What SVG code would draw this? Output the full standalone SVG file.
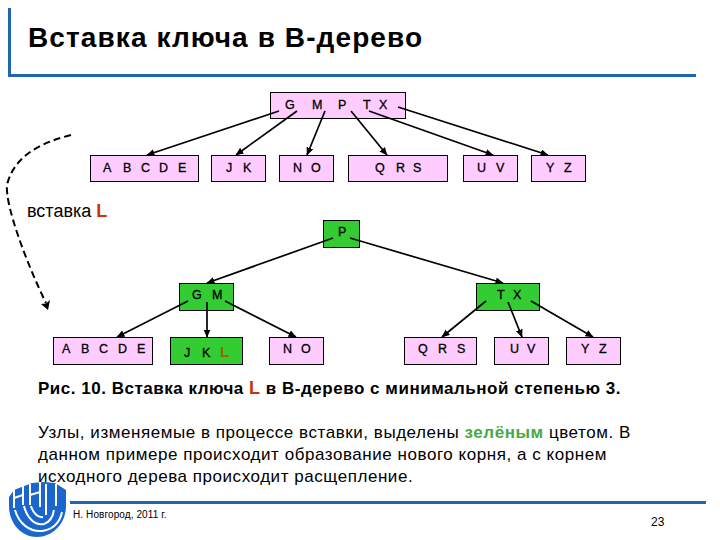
<svg xmlns="http://www.w3.org/2000/svg" width="720" height="540" viewBox="0 0 720 540">
<style>
text{font-family:"Liberation Sans",Arial,sans-serif;fill:#000}
.pink{fill:#ffccff;stroke:#000;stroke-width:1}
.green{fill:#33cc33;stroke:#000;stroke-width:1}
.k{font-size:12.5px;stroke:#000;stroke-width:.3}
.c{stroke:#000;stroke-width:1.7;fill:none;marker-end:url(#a)}
.body{font-size:17px;letter-spacing:.55px}
.cap{font-size:17px;font-weight:bold;letter-spacing:.52px}
.red{fill:#cc3300}
.bar{fill:#1f66ad}
</style>
<defs>
<marker id="a" markerUnits="userSpaceOnUse" markerWidth="10" markerHeight="10" refX="7.5" refY="3.5" orient="auto"><path d="M0 0L8 3.5L0 7Z" fill="#000"/></marker>
</defs>
<rect id="rule-v" class="bar" x="8" y="8" width="3" height="69"/>
<rect id="rule-h" class="bar" x="8" y="74" width="688" height="3"/>
<text x="28" y="47" font-size="28" font-weight="bold" letter-spacing="1.1">Вставка ключа в В-дерево</text>
<g id="n-root"><rect class="pink" x="270.500" y="92.500" width="135" height="26"/><text class="k" x="285 312 338 363 379" y="109">GMPTX</text></g>
<g id="n-abcde"><rect class="pink" x="90.500" y="155.500" width="108" height="26"/><text class="k" x="103 123 141 159 178" y="172">ABCDE</text></g>
<g id="n-jk"><rect class="pink" x="211.500" y="155.500" width="54" height="26"/><text class="k" x="226 243" y="172">JK</text></g>
<g id="n-no"><rect class="pink" x="279.500" y="155.500" width="54" height="26"/><text class="k" x="293 311" y="172">NO</text></g>
<g id="n-qrs"><rect class="pink" x="348.500" y="155.500" width="99" height="26"/><text class="k" x="375 396 413" y="172">QRS</text></g>
<g id="n-uv"><rect class="pink" x="463.500" y="155.500" width="54" height="26"/><text class="k" x="477 496" y="172">UV</text></g>
<g id="n-yz"><rect class="pink" x="531.500" y="155.500" width="54" height="26"/><text class="k" x="546 564" y="172">YZ</text></g>
<text x="27" y="217" font-size="18">вставка <tspan class="red" font-weight="bold">L</tspan></text>
<g id="n-p"><rect class="green" x="323.500" y="220.500" width="36" height="27"/><text class="k" x="338" y="236">P</text></g>
<g id="n-gm"><rect class="green" x="179.500" y="283.500" width="54" height="27"/><text class="k" x="192 212" y="299">GM</text></g>
<g id="n-tx"><rect class="green" x="476.500" y="283.500" width="63" height="27"/><text class="k" x="497 513" y="299">TX</text></g>
<g id="n-abcde2"><rect class="pink" x="53.500" y="337.500" width="99" height="27"/><text class="k" x="62 81 99 118 137" y="353">ABCDE</text></g>
<g id="n-jkl"><rect class="green" x="170.500" y="337.500" width="72" height="27"/><text class="k" x="184 202" y="357">JK</text><text x="220" y="357" font-size="15" font-weight="bold" style="fill:#996600">L</text></g>
<g id="n-no2"><rect class="pink" x="269.500" y="337.500" width="54" height="27"/><text class="k" x="283 301" y="353">NO</text></g>
<g id="n-qrs2"><rect class="pink" x="404.500" y="337.500" width="72" height="27"/><text class="k" x="418 438 457" y="353">QRS</text></g>
<g id="n-uv2"><rect class="pink" x="494.500" y="337.500" width="54" height="27"/><text class="k" x="510 527" y="353">UV</text></g>
<g id="n-yz2"><rect class="pink" x="566.500" y="337.500" width="54" height="27"/><text class="k" x="581 599" y="353">YZ</text></g>
<g id="connectors">
<path class="c" d="M279 111L147 155"/>
<path class="c" d="M297 111L236 155"/>
<path class="c" d="M325 111L307 155"/>
<path class="c" d="M351 111L387 155"/>
<path class="c" d="M369 111L493 155"/>
<path class="c" d="M398 107L548 155"/>
<path class="c" d="M333 238L207 283"/>
<path class="c" d="M350 238L503 283"/>
<path class="c" d="M188 301L117 337"/>
<path class="c" d="M207 302L207 337"/>
<path class="c" d="M225 301L296 337"/>
<path class="c" d="M486 301L442 337"/>
<path class="c" d="M508 302L522 337"/>
<path class="c" d="M531 301L593 337"/>
<path d="M71 135C40 143 14 156 7 185C5 205 26 262 46 303" fill="none" stroke="#000" stroke-width="2" stroke-dasharray="7 4"/>
<path d="M48 310L41 304L46 303.500L50 300Z" fill="#000"/>
</g>
<text class="cap" x="38" y="394">Рис. 10. Вставка ключа <tspan class="red" font-size="18">L</tspan> в В-дерево с минимальной степенью 3.</text>
<text class="body" x="38" y="438" letter-spacing=".6">Узлы, изменяемые в процессе вставки, выделены <tspan style="fill:#44aa44" font-weight="bold">зелёным</tspan> цветом. В</text>
<text class="body" x="38" y="460">данном примере происходит образование нового корня, а с корнем</text>
<text class="body" x="38" y="482">исходного дерева происходит расщепление.</text>
<rect id="rule-foot" class="bar" x="70" y="501" width="636" height="3"/>
<text x="73" y="518" font-size="10" letter-spacing=".1">Н. Новгород, 2011 г.</text>
<text x="651" y="526" font-size="12">23</text>
<g id="logo">
<path d="M9 497L14 490L32 483L44 482L55 483L66 490V506C66 524 52 537 37 537C21 537 9 523 9 506Z" fill="#1a66cc"/>
<path d="M14 490V508M23 486V505M14 498L23 495M30 484V505M40 482V507M30 495L40 492" fill="none" stroke="#fff" stroke-width="2"/>
<path d="M15 510C19 524 30 532 42 531C52 530 60 523 62 512M24 506C27 518 35 526 44 524C50 522 53 516 54 510M31 506C33 513 38 518 43 517M46 484V515M56 484V506" fill="none" stroke="#fff" stroke-width="2"/>
</g>
</svg>
